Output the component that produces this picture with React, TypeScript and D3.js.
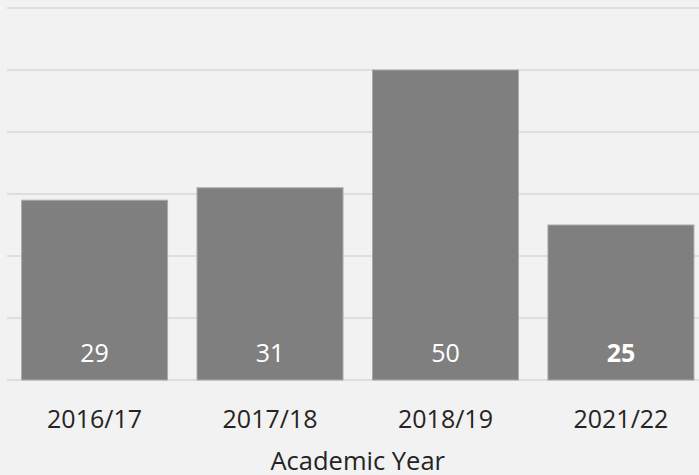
import React from "react";
import * as d3 from "d3";

const categories = ["2016/17", "2017/18", "2018/19", "2021/22"];
const values = [29, 31, 50, 25];
const boldLabel = [false, false, false, true];
const yTicks = [0, 10, 20, 30, 40, 50, 60];
const xTitle = "Academic Year";

const W = 699;
const H = 475;
const FONT = "'Open Sans', 'Noto Sans', sans-serif";

export default function App() {
  const x = d3
    .scaleBand<string>()
    .domain(categories)
    .range([7, 708.5])
    .paddingInner(0.168)
    .paddingOuter(0.083);
  const y = d3.scaleLinear().domain([0, 60]).range([380, 8]);

  return (
    <svg
      width={W}
      height={H}
      style={{ position: "absolute", left: 0, top: 0, background: "#f2f2f2" }}
      fontFamily={FONT}
    >
      <rect x={0} y={0} width={W} height={H} fill="#f2f2f2" />
      {yTicks.map((t) => (
        <line
          key={t}
          x1={7}
          x2={W}
          y1={y(t)}
          y2={y(t)}
          stroke="#dedde3"
          strokeWidth={2}
        />
      ))}
      {categories.map((c, i) => (
        <g key={c}>
          <rect
            x={x(c)!}
            y={y(values[i])}
            width={x.bandwidth()}
            height={y(0) - y(values[i])}
            fill="#7f7f7f"
            stroke="#a9a9a9"
            strokeWidth={1}
          />
          <text
            x={x(c)! + x.bandwidth() / 2}
            y={y(0) - 18}
            textAnchor="middle"
            fill="#ffffff"
            fontSize={25}
            fontWeight={boldLabel[i] ? 700 : 400}
          >
            {values[i]}
          </text>
          <text
            x={x(c)! + x.bandwidth() / 2}
            y={428}
            textAnchor="middle"
            fill="#252423"
            fontSize={25}
          >
            {c}
          </text>
        </g>
      ))}
      <text
        x={(x.range()[0] + x.range()[1]) / 2}
        y={470}
        textAnchor="middle"
        fill="#252423"
        fontSize={25.5}
      >
        {xTitle}
      </text>
    </svg>
  );
}
